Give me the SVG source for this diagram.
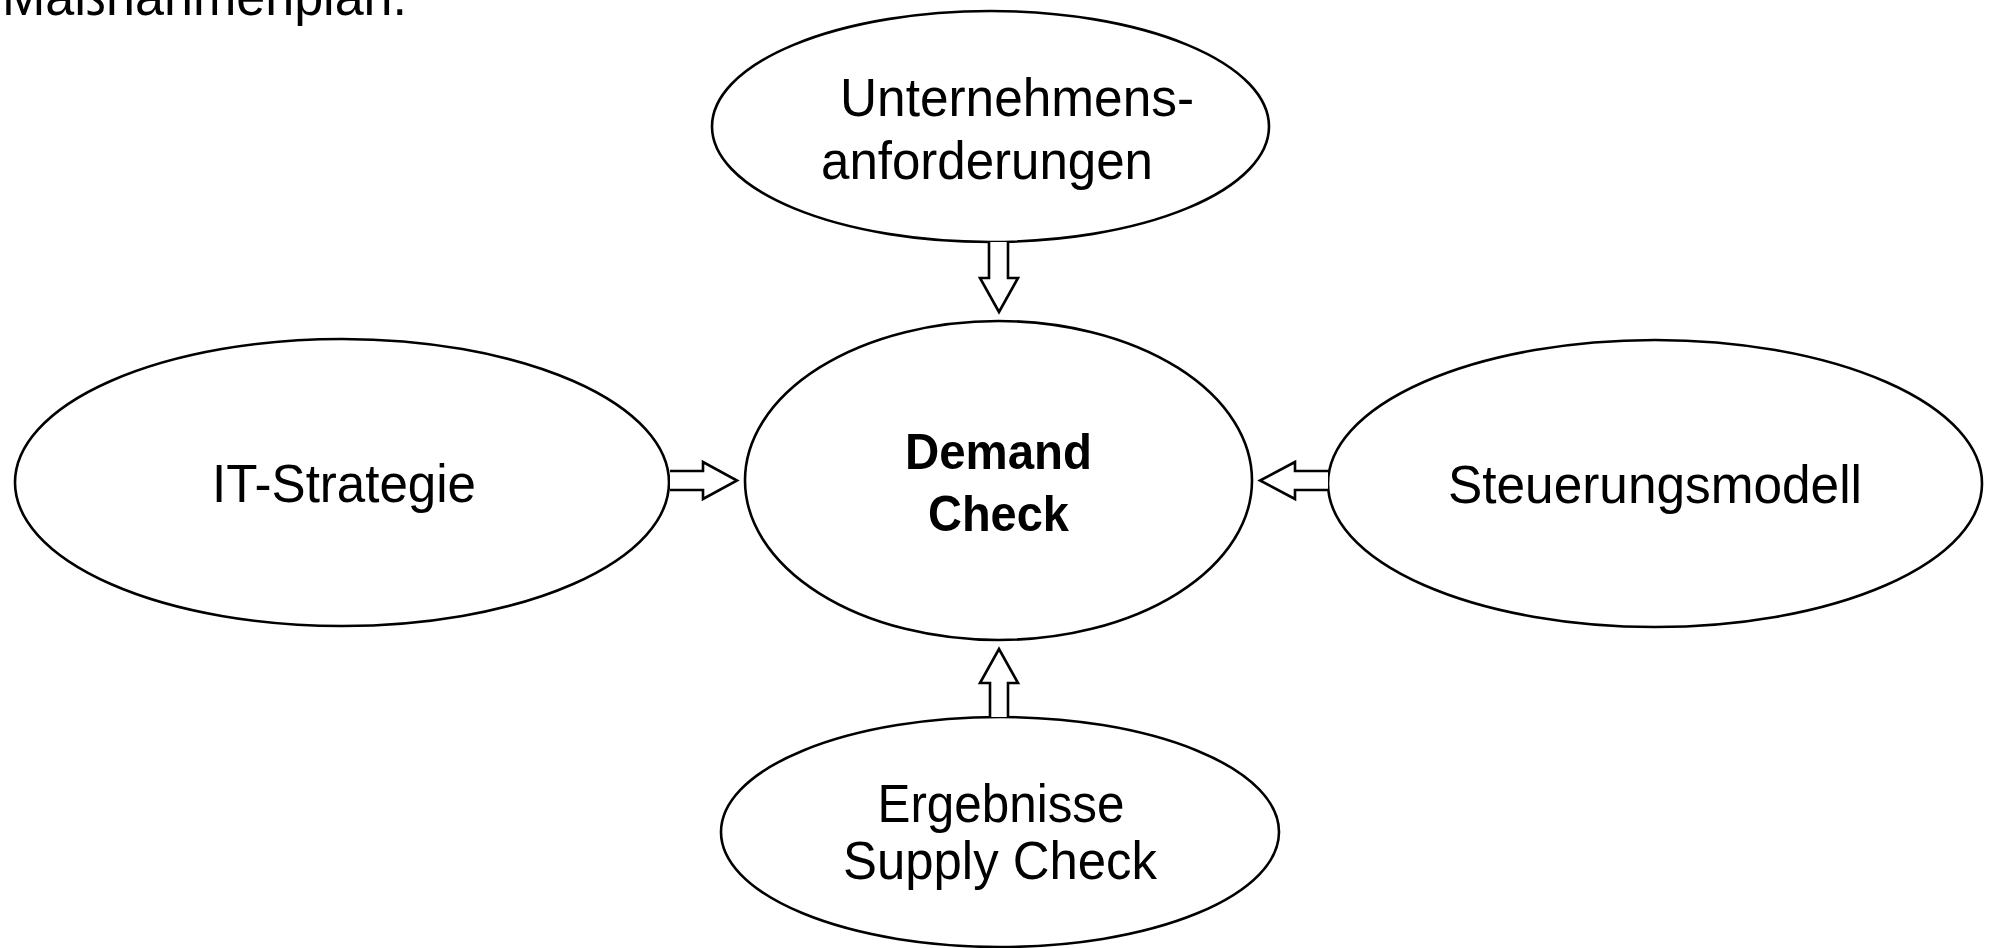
<svg xmlns="http://www.w3.org/2000/svg" width="1991" height="948" viewBox="0 0 1991 948">
<style>
  .node { fill: #ffffff; stroke: #000000; stroke-width: 2.6; }
  .lbl { font-family: "Liberation Sans", Arial, sans-serif; font-size: 54px; fill: #000000; text-anchor: middle; }
  .bold { font-weight: bold; font-size: 50px; }
  .arrow { fill: #ffffff; stroke: #000000; stroke-width: 2.6; stroke-linejoin: miter; }
</style>
<rect x="0" y="0" width="1991" height="948" fill="#ffffff"/>
<text class="lbl" x="2" y="15" style="text-anchor:start" textLength="405" lengthAdjust="spacingAndGlyphs">Maßnahmenplan.</text>
<g id="node-unternehmensanforderungen">
  <ellipse class="node" cx="990.5" cy="126.5" rx="278.5" ry="115.5"/>
  <text class="lbl" x="1017" y="116" textLength="354" lengthAdjust="spacingAndGlyphs">Unternehmens-</text>
  <text class="lbl" x="987" y="179" textLength="332" lengthAdjust="spacingAndGlyphs">anforderungen</text>
</g>
<g id="node-demand-check">
  <ellipse class="node" cx="998.5" cy="480.5" rx="253.5" ry="159.5"/>
  <text class="lbl bold" x="998.5" y="469" textLength="187" lengthAdjust="spacingAndGlyphs">Demand</text>
  <text class="lbl bold" x="998.5" y="531" textLength="141" lengthAdjust="spacingAndGlyphs">Check</text>
</g>
<g id="node-it-strategie">
  <ellipse class="node" cx="342" cy="482.5" rx="327" ry="143.5"/>
  <text class="lbl" x="344" y="502" textLength="264" lengthAdjust="spacingAndGlyphs">IT-Strategie</text>
</g>
<g id="node-steuerungsmodell">
  <ellipse class="node" cx="1655" cy="483.5" rx="327" ry="143.5"/>
  <text class="lbl" x="1655" y="503" textLength="414" lengthAdjust="spacingAndGlyphs">Steuerungsmodell</text>
</g>
<g id="node-ergebnisse-supply-check">
  <ellipse class="node" cx="1000" cy="832" rx="279" ry="115"/>
  <text class="lbl" x="1001" y="822" textLength="247" lengthAdjust="spacingAndGlyphs">Ergebnisse</text>
  <text class="lbl" x="1000" y="879" textLength="314" lengthAdjust="spacingAndGlyphs">Supply Check</text>
</g>
<g id="connectors">
  <path class="arrow" d="M989,242 V278 H980 L999,312 L1018,278 H1008 V242"/>
  <path class="arrow" d="M670,471 H703 V462 L737,480.5 L703,499 V490 H670"/>
  <path class="arrow" d="M1328,471 H1295 V462 L1260,480.5 L1295,499 V490 H1328"/>
  <path class="arrow" d="M990,717 V683 H980 L999,649 L1018,683 H1008 V717"/>
</g>
</svg>
